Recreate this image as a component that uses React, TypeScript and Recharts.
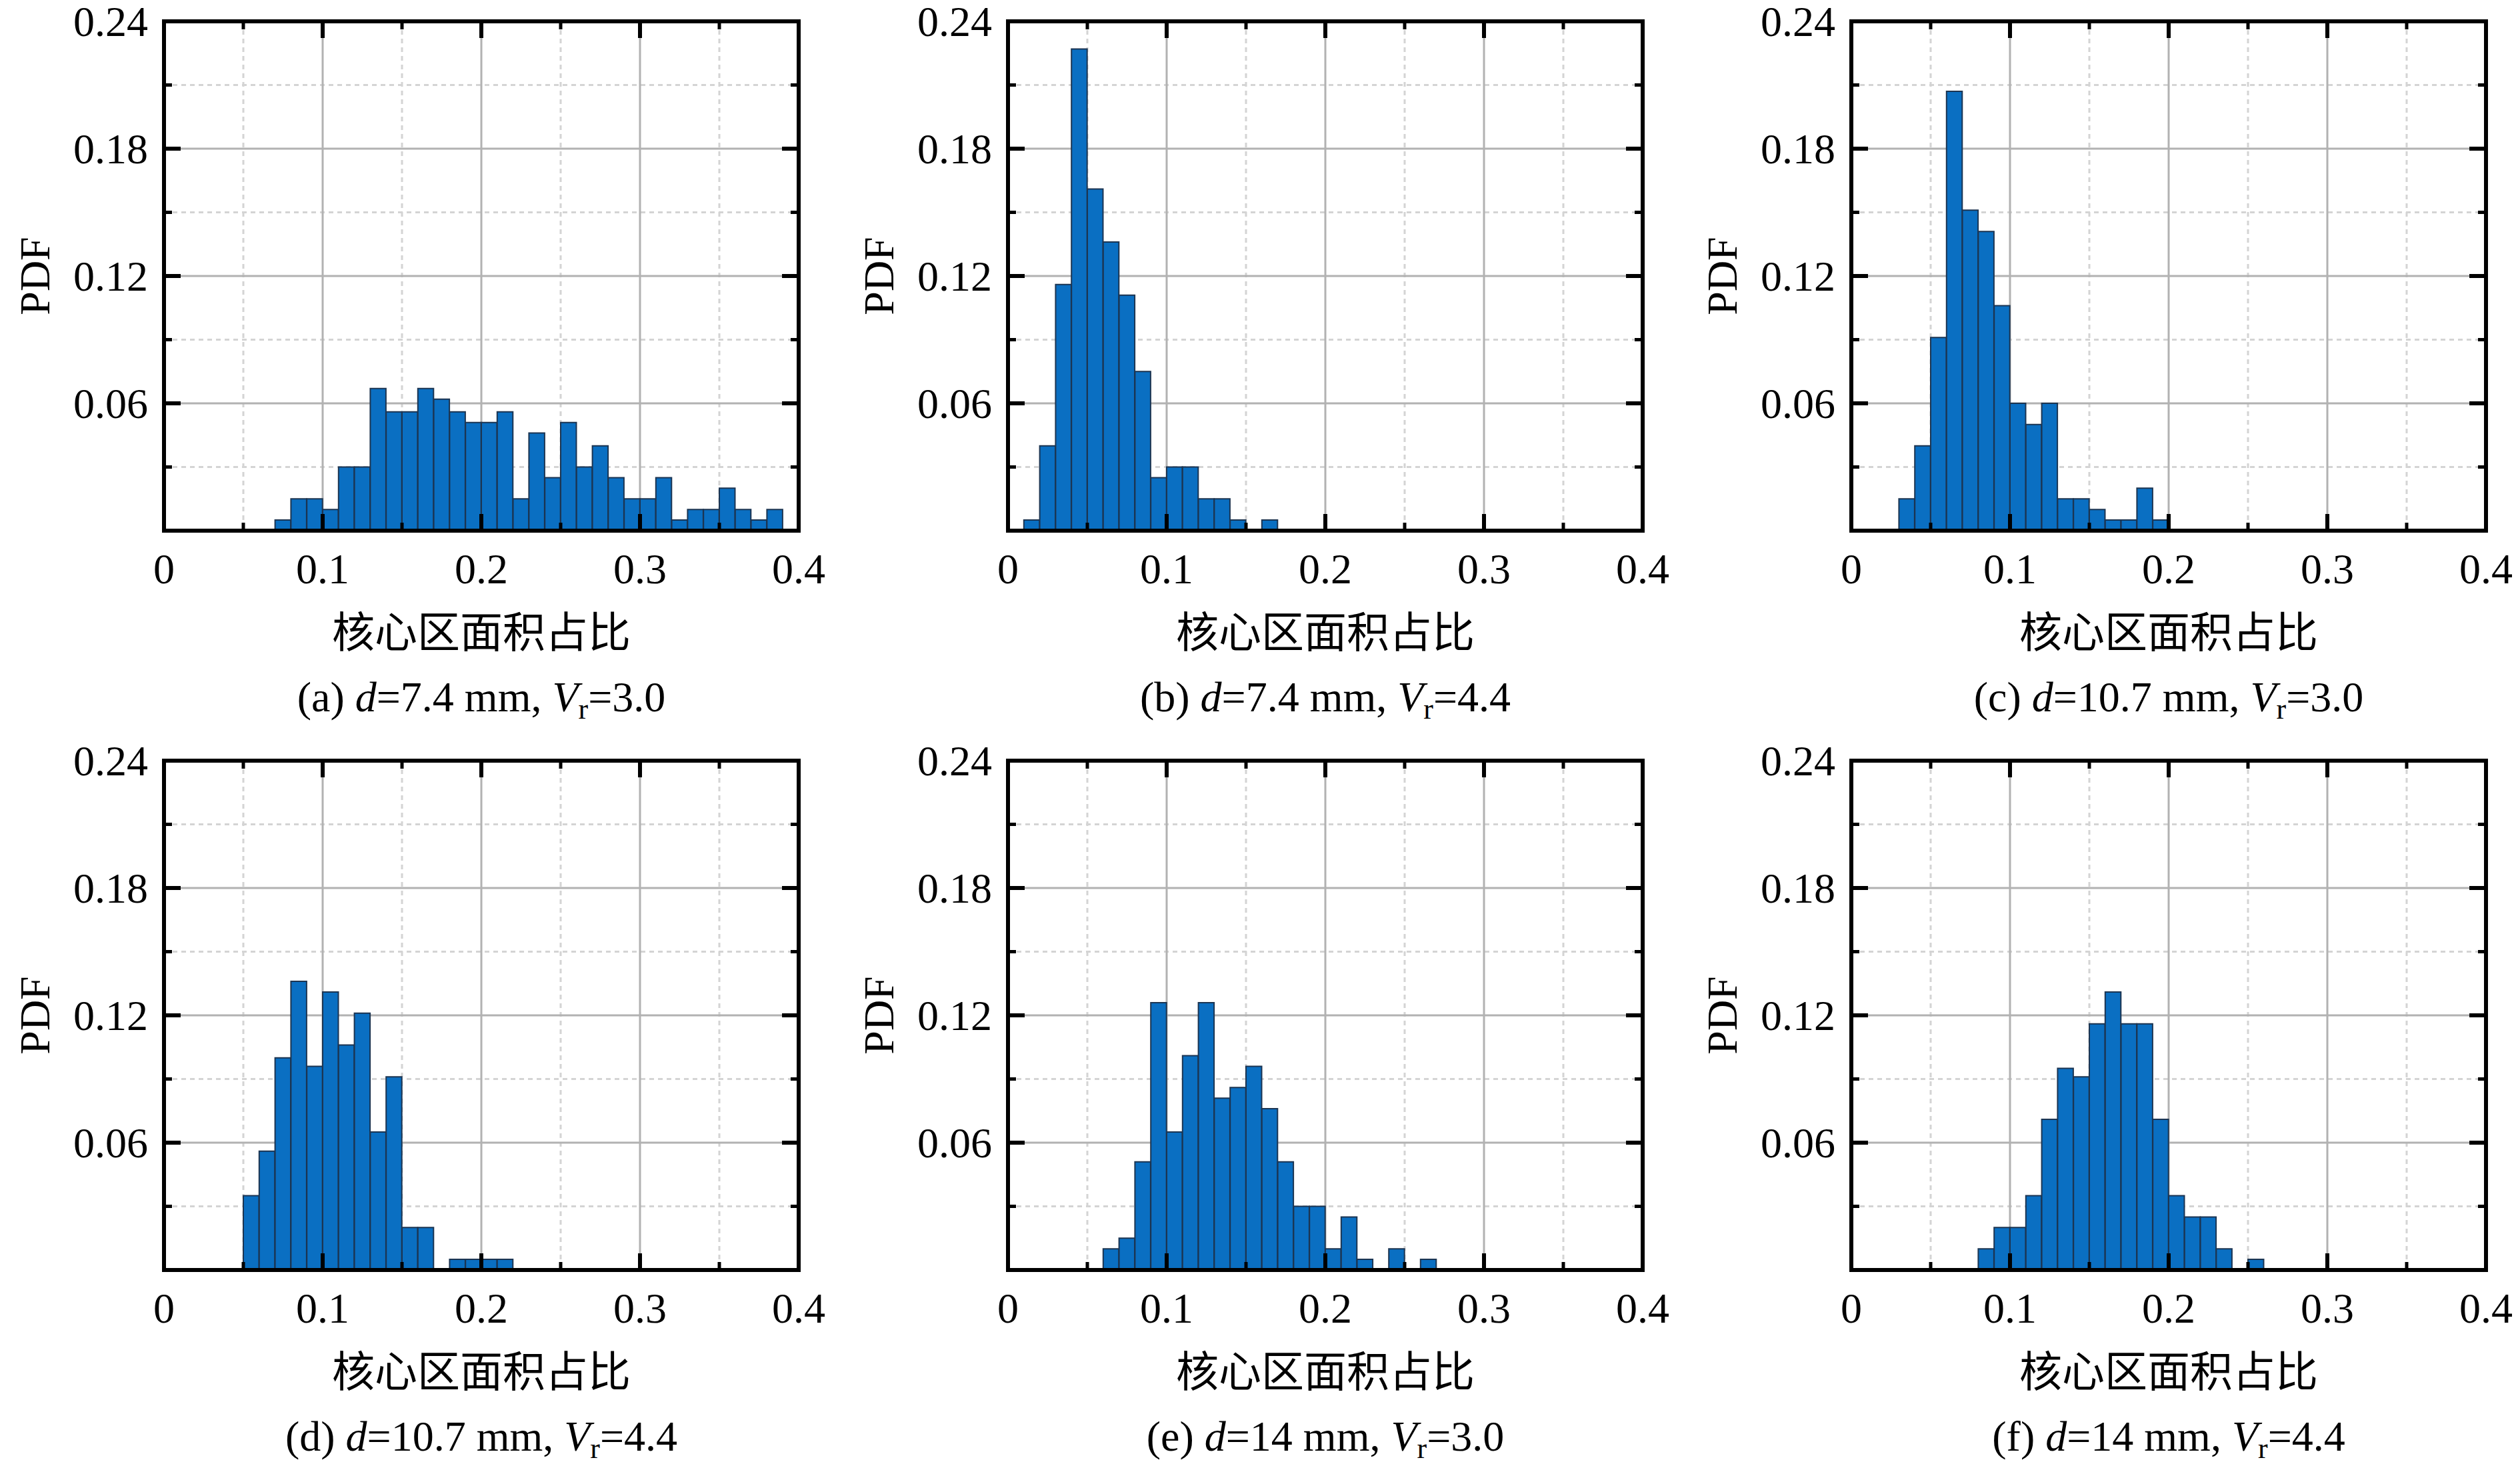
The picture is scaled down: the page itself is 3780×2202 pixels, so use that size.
import React from 'react';
import { BarChart, Bar, XAxis, YAxis, CartesianGrid } from 'recharts';

// histogram bin centres, bin width 0.01
const bins = [
  0.005, 0.015, 0.025, 0.035, 0.045, 0.055, 0.065, 0.075, 0.085, 0.095,
  0.105, 0.115, 0.125, 0.135, 0.145, 0.155, 0.165, 0.175, 0.185, 0.195,
  0.205, 0.215, 0.225, 0.235, 0.245, 0.255, 0.265, 0.275, 0.285, 0.295,
  0.305, 0.315, 0.325, 0.335, 0.345, 0.355, 0.365, 0.375, 0.385, 0.395,
];

const pdfA = [
  0, 0, 0, 0, 0, 0, 0, 0.005, 0.015, 0.015,
  0.010, 0.030, 0.030, 0.067, 0.056, 0.056, 0.067, 0.062, 0.056, 0.051,
  0.051, 0.056, 0.015, 0.046, 0.025, 0.051, 0.030, 0.040, 0.025, 0.015,
  0.015, 0.025, 0.005, 0.010, 0.010, 0.020, 0.010, 0.005, 0.010, 0,
];
const pdfB = [
  0, 0.005, 0.040, 0.116, 0.227, 0.161, 0.136, 0.111, 0.075, 0.025,
  0.030, 0.030, 0.015, 0.015, 0.005, 0, 0.005, 0, 0, 0,
  0, 0, 0, 0, 0, 0, 0, 0, 0, 0,
  0, 0, 0, 0, 0, 0, 0, 0, 0, 0,
];
const pdfC = [
  0, 0, 0, 0.015, 0.040, 0.091, 0.207, 0.151, 0.141, 0.106,
  0.060, 0.050, 0.060, 0.015, 0.015, 0.010, 0.005, 0.005, 0.020, 0.005,
  0, 0, 0, 0, 0, 0, 0, 0, 0, 0,
  0, 0, 0, 0, 0, 0, 0, 0, 0, 0,
];
const pdfD = [
  0, 0, 0, 0, 0, 0.035, 0.056, 0.100, 0.136, 0.096,
  0.131, 0.106, 0.121, 0.065, 0.091, 0.020, 0.020, 0, 0.005, 0.005,
  0.005, 0.005, 0, 0, 0, 0, 0, 0, 0, 0,
  0, 0, 0, 0, 0, 0, 0, 0, 0, 0,
];
const pdfE = [
  0, 0, 0, 0, 0, 0, 0.010, 0.015, 0.051, 0.126,
  0.065, 0.101, 0.126, 0.081, 0.086, 0.096, 0.076, 0.051, 0.030, 0.030,
  0.010, 0.025, 0.005, 0, 0.010, 0, 0.005, 0, 0, 0,
  0, 0, 0, 0, 0, 0, 0, 0, 0, 0,
];
const pdfF = [
  0, 0, 0, 0, 0, 0, 0, 0, 0.010, 0.020,
  0.020, 0.035, 0.071, 0.095, 0.091, 0.116, 0.131, 0.116, 0.116, 0.071,
  0.035, 0.025, 0.025, 0.010, 0, 0.005, 0, 0, 0, 0,
  0, 0, 0, 0, 0, 0, 0, 0, 0, 0,
];

const series = [pdfA, pdfB, pdfC, pdfD, pdfE, pdfF];
const panelTags = ['(a)', '(b)', '(c)', '(d)', '(e)', '(f)'];
const dValues = ['7.4', '7.4', '10.7', '10.7', '14', '14'];
const vrValues = ['3.0', '4.4', '3.0', '4.4', '3.0', '4.4'];

const xMajor = [0, 0.1, 0.2, 0.3, 0.4];
const xMinor = [0.05, 0.15, 0.25, 0.35];
const xTicks = [0, 0.05, 0.1, 0.15, 0.2, 0.25, 0.3, 0.35, 0.4];
const yMajor = [0.06, 0.12, 0.18, 0.24];
const yMinor = [0.03, 0.09, 0.15, 0.21];
const yTicks = [0, 0.03, 0.06, 0.09, 0.12, 0.15, 0.18, 0.21, 0.24];

const xTitle = '核心区面积占比';
const yTitle = 'PDF';

// layout
const CELL_W = 1260;
const ROW_TOP = [0, 1100];
const ROW_H = [1100, 1102];
const PLOT_LEFT = [246, 252, 257];
const PLOT_TOP = [32, 41];
const PLOT_W = 952;
const PLOT_H = 764;

const SERIF = "'Liberation Serif', 'Times New Roman', serif";
const CJK = "'Noto Sans CJK SC', sans-serif";
const FS = 64;
const MAJOR_LEN = 25;
const MINOR_LEN = 12;

const frame = { stroke: '#000', strokeWidth: 6, strokeLinecap: 'square' as const };

const has = (list: number[], v: number) => list.some((m) => Math.abs(m - v) < 1e-9);

// bottom axis tick: inward marks on the bottom and top edges, label below
const XTick = (props: any) => {
  const { x, y, payload } = props;
  const major = has(xMajor, payload.value);
  const len = major ? MAJOR_LEN : MINOR_LEN;
  const w = major ? 6 : 5;
  const yTop = y - PLOT_H;
  return (
    <g>
      <line x1={x} y1={y} x2={x} y2={y - len} stroke="#000" strokeWidth={w} />
      <line x1={x} y1={yTop} x2={x} y2={yTop + len} stroke="#000" strokeWidth={w} />
      {major && (
        <text x={x} y={y + 79} textAnchor="middle" fontSize={FS} fontFamily={SERIF} fill="#000">
          {String(payload.value)}
        </text>
      )}
    </g>
  );
};

// left axis tick: inward marks on the left and right edges, label on the left
const YTick = (props: any) => {
  const { x, y, payload } = props;
  const major = has(yMajor, payload.value);
  const len = major ? MAJOR_LEN : MINOR_LEN;
  const w = major ? 6 : 5;
  const xRight = x + PLOT_W;
  return (
    <g>
      <line x1={x} y1={y} x2={x + len} y2={y} stroke="#000" strokeWidth={w} />
      <line x1={xRight} y1={y} x2={xRight - len} y2={y} stroke="#000" strokeWidth={w} />
      {major && (
        <text x={x - 24} y={y} dy="0.34em" textAnchor="end" fontSize={FS} fontFamily={SERIF} fill="#000">
          {String(payload.value)}
        </text>
      )}
    </g>
  );
};

const Panel = ({ idx }: { idx: number }) => {
  const col = idx % 3;
  const row = Math.floor(idx / 3);
  const values = series[idx];
  const data = bins.map((b, i) => ({ x: b, pdf: values[i] }));
  const left = PLOT_LEFT[col];
  const top = PLOT_TOP[row];
  const h = ROW_H[row];
  const xAxisH = h - top - PLOT_H;

  const xLabel = (p: any) => {
    const vb = p.viewBox || { x: left, y: top + PLOT_H, width: PLOT_W };
    const cx = vb.x + vb.width / 2;
    return (
      <g>
        <text x={cx} y={vb.y + 175} textAnchor="middle" fontSize={FS} fontFamily={CJK} fill="#000">
          {xTitle}
        </text>
        <text x={cx} y={vb.y + 271} textAnchor="middle" fontSize={FS} fontFamily={SERIF} fill="#000">
          <tspan>{panelTags[idx] + ' '}</tspan>
          <tspan fontStyle="italic">d</tspan>
          <tspan>{'=' + dValues[idx] + ' mm, '}</tspan>
          <tspan fontStyle="italic">V</tspan>
          <tspan fontSize={44} dy={11}>r</tspan>
          <tspan dy={-11}>{'=' + vrValues[idx]}</tspan>
        </text>
      </g>
    );
  };

  const yLabel = (p: any) => {
    const vb = p.viewBox || { x: 0, y: top, width: left, height: PLOT_H };
    const lx = vb.x + vb.width - 194;
    const ly = vb.y + vb.height / 2;
    return (
      <text x={lx} y={ly} dy="0.35em" transform={`rotate(-90, ${lx}, ${ly})`} textAnchor="middle" fontSize={FS} fontFamily={SERIF} fill="#000">
        {yTitle}
      </text>
    );
  };

  return (
    <div style={{ position: 'absolute', left: col * CELL_W, top: ROW_TOP[row], width: CELL_W, height: h }}>
      <BarChart
        width={CELL_W}
        height={h}
        data={data}
        margin={{ top, right: CELL_W - left - PLOT_W, bottom: 0, left: 0 }}
        barCategoryGap={0}
        barGap={0}
      >
        {/* minor grid (dashed) */}
        <CartesianGrid
          verticalValues={xMinor}
          horizontalValues={yMinor}
          stroke="#d4d4d4"
          strokeWidth={3}
          strokeDasharray="7 6"
        />
        {/* major grid (solid) */}
        <CartesianGrid
          verticalValues={[0.1, 0.2, 0.3]}
          horizontalValues={[0.06, 0.12, 0.18]}
          stroke="#b2b2b2"
          strokeWidth={3}
        />
        {/* top and right edges of the box */}
        <CartesianGrid
          verticalValues={[0.4]}
          horizontalValues={[0.24]}
          stroke="#000"
          strokeWidth={6}
          strokeLinecap="square"
        />
        <XAxis
          dataKey="x"
          type="number"
          domain={[0, 0.4]}
          allowDataOverflow
          ticks={xTicks}
          interval={0}
          tick={(p: any) => <XTick {...p} />}
          tickLine={false}
          tickSize={0}
          tickMargin={0}
          axisLine={frame}
          height={xAxisH}
          label={xLabel}
        />
        <YAxis
          type="number"
          domain={[0, 0.24]}
          allowDataOverflow
          ticks={yTicks}
          interval={0}
          tick={(p: any) => <YTick {...p} />}
          tickLine={false}
          tickSize={0}
          tickMargin={0}
          axisLine={frame}
          width={left}
          label={yLabel}
        />
        <Bar
          dataKey="pdf"
          barSize={PLOT_W / bins.length - 0.3}
          fill="#0a6fc2"
          stroke="#1c3552"
          strokeWidth={2}
          isAnimationActive={false}
        />
      </BarChart>
    </div>
  );
};

export default function App() {
  return (
    <div style={{ position: 'absolute', left: 0, top: 0, width: 3780, height: 2202, background: '#fff' }}>
      {series.map((_, i) => (
        <Panel key={i} idx={i} />
      ))}
    </div>
  );
}
